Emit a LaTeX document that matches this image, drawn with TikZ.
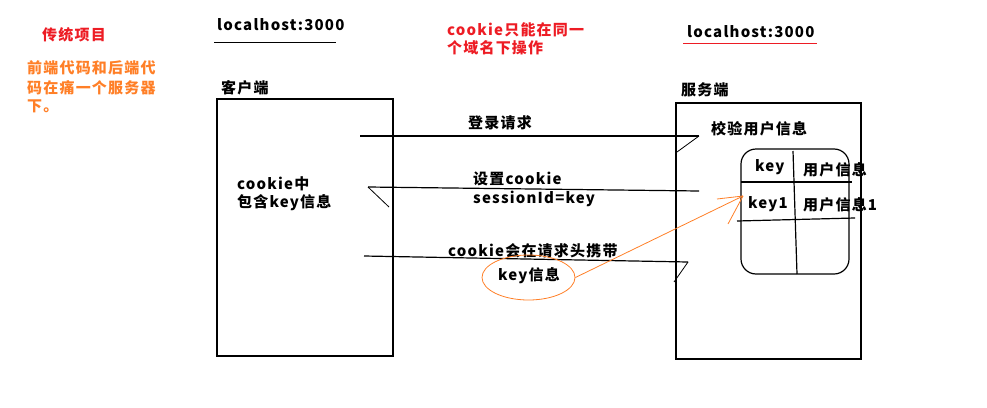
\documentclass[tikz,border=0pt]{standalone}
\usepackage{fontspec}
\setmainfont{Noto Sans CJK SC}[LetterSpace=8]
\usetikzlibrary{shapes.geometric}
\definecolor{paintred}{RGB}{237,28,36}
\definecolor{paintorange}{RGB}{255,127,39}
\tikzset{
  txt/.style={anchor=west, inner sep=0pt, font=\fontsize{15}{18}\selectfont\bfseries},
  note/.style={txt, text=paintred},
  hint/.style={txt, text=paintorange},
  wire/.style={line width=1.2pt},
  barb/.style={line width=0.8pt},
}
\begin{document}
\begin{tikzpicture}[x=1pt, y=-1pt]
  \useasboundingbox (0,0) rectangle (987,407);

  % Notes on the left
  \node[note] (trad) at (42,35) {传统项目};
  \node[hint] (same1) at (27,68) {前端代码和后端代};
  \node[hint] (same2) at (27,88) {码在痛一个服务器};
  \node[hint] (same3) at (27,106) {下。};

  % Client
  \node[txt] (host1) at (217,25) {localhost:3000};
  \draw[line width=1pt] (214,42.5) -- (336,42.5);
  \node[txt] (clientlbl) at (221,88) {客户端};
  \draw[wire] (217,99) rectangle (393,356);
  \node[txt] (ck1) at (237,184) {cookie中};
  \node[txt] (ck2) at (237,203) {包含key信息};

  % Domain note
  \node[note] (dom1) at (447,30) {cookie只能在同一};
  \node[note] (dom2) at (447,48) {个域名下操作};

  % Server
  \node[txt] (host2) at (687,32) {localhost:3000};
  \draw[paintred, line width=1pt] (683,43) -- (817,43);
  \node[txt] (serverlbl) at (681,90) {服务端};
  \draw[wire] (676,103) rectangle (861,359);
  \node[txt] (check) at (711,129) {校验用户信息};

  % Session table
  \draw[wire] (741,149) [rounded corners=15pt] rectangle (849,274);
  \draw[wire] (793,151) -- (797,274);
  \draw[wire] (741,182) -- (852,182);
  \draw[wire] (737,221) -- (855,218);
  \node[txt] (k0) at (755,167) {key};
  \node[txt] (u0) at (803,170) {用户信息};
  \node[txt] (k1) at (748,204) {key1};
  \node[txt] (u1) at (803,205) {用户信息1};

  % Login request
  \coordinate (login-s) at (360,136);
  \coordinate (login-e) at (699,136);
  \draw[wire] (login-s) -- (login-e);
  \draw[barb] (login-e) -- ++(-22,16);
  \node[txt] (loginlbl) at (468,123) {登录请求};

  % Set cookie
  \coordinate (set-s) at (699,191);
  \coordinate (set-e) at (368,187);
  \draw[wire] (set-s) -- (set-e);
  \draw[barb] (set-e) -- ++(21,20);
  \node[txt] (setlbl) at (473,179) {设置cookie};
  \node[txt] (sidlbl) at (473,199) {sessionId=key};

  % Cookie in header
  \coordinate (hdr-s) at (364,256);
  \coordinate (hdr-e) at (688,262);
  \draw[wire] (hdr-s) -- (hdr-e);
  \draw[barb] (hdr-e) -- ++(-14,20);
  \node[txt] (hdrlbl) at (448,251) {cookie会在请求头携带};

  % Key info
  \node[ellipse, draw=paintorange, line width=0.8pt, minimum width=93pt, minimum height=45pt] (keyinfo) at (528.5,277.5) {};
  \node[txt] (keylbl) at (498,276) {key信息};
  \coordinate (keytip) at (743,196);
  \draw[paintorange, line width=0.8pt] (keyinfo.east) -- (keytip);
  \draw[paintorange, line width=0.8pt] (keytip) -- ++(-26,3);
  \draw[paintorange, line width=0.8pt] (keytip) -- ++(-15,28);

\end{tikzpicture}
\end{document}
